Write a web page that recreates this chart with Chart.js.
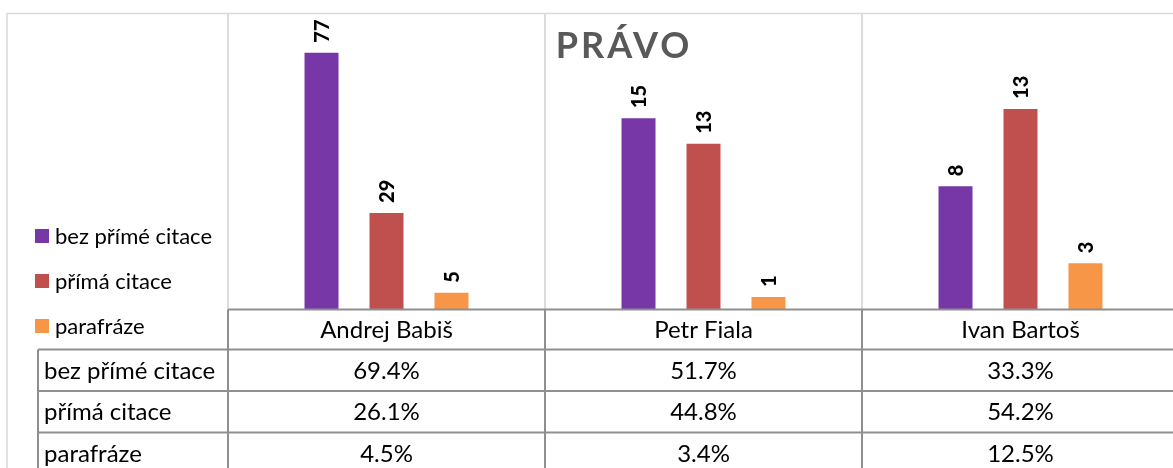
<!DOCTYPE html>
<html>
<head>
<meta charset="utf-8">
<script src="https://cdn.jsdelivr.net/npm/chart.js@4.4.1/dist/chart.umd.min.js"></script>
<style>
  html, body { margin: 0; padding: 0; background: #fff; overflow: hidden; width: 1173px; height: 468px; }
  canvas { display: block; }
</style>
</head>
<body>
<canvas id="c" width="1190" height="480"></canvas>
<script>
const title = 'PRÁVO';
const categories = ['Andrej Babiš', 'Petr Fiala', 'Ivan Bartoš'];
const seriesNames = ['bez přímé citace', 'přímá citace', 'parafráze'];
// share of each politician's mentions (percent) – bar heights and data table
const bezPrimeCitacePct = [69.4, 51.7, 33.3];
const primaCitacePct = [26.1, 44.8, 54.2];
const parafrazePct = [4.5, 3.4, 12.5];
// absolute counts – data labels above bars
const bezPrimeCitaceCount = [77, 15, 8];
const primaCitaceCount = [29, 13, 13];
const parafrazeCount = [5, 1, 3];
const colors = ['#7737A7', '#C0504D', '#F79646'];

const FONT = 'Lato, "Open Sans", "Liberation Sans", sans-serif';

const overlay = {
  id: 'overlay',
  beforeDatasetsDraw(chart) {
    const ctx = chart.ctx, a = chart.chartArea, x = chart.scales.x;
    const cw = x.getPixelForValue(1) - x.getPixelForValue(0);
    ctx.save();
    ctx.strokeStyle = '#d9d9d9';
    ctx.lineWidth = 1.5;
    ctx.beginPath();
    ctx.moveTo(7, 480); ctx.lineTo(7, 13.5); ctx.lineTo(1190, 13.5);
    ctx.stroke();
    ctx.strokeStyle = '#dcdcdc';
    ctx.lineWidth = 2;
    for (let i = 0; i < categories.length; i++) {
      const xl = x.getPixelForValue(i) - cw / 2;
      ctx.beginPath(); ctx.moveTo(xl, a.top); ctx.lineTo(xl, a.bottom); ctx.stroke();
    }
    ctx.fillStyle = '#595959';
    ctx.font = 'bold 36px ' + FONT;
    ctx.letterSpacing = '3px';
    ctx.textAlign = 'center';
    ctx.textBaseline = 'alphabetic';
    ctx.fillText(title, 624, 58);
    ctx.letterSpacing = '0px';
    ctx.restore();
  },
  afterDatasetsDraw(chart) {
    const ctx = chart.ctx, a = chart.chartArea, x = chart.scales.x;
    const cw = x.getPixelForValue(1) - x.getPixelForValue(0);
    ctx.save();
    ctx.fillStyle = '#000';
    ctx.font = '900 20px ' + FONT;
    chart.data.datasets.forEach((ds, di) => {
      const meta = chart.getDatasetMeta(di);
      meta.data.forEach((bar, i) => {
        ctx.save();
        ctx.translate(bar.x, bar.y - 10);
        ctx.rotate(-Math.PI / 2);
        ctx.textAlign = 'left';
        ctx.textBaseline = 'middle';
        ctx.fillText(String(ds.counts[i]), 0, 1);
        ctx.restore();
      });
    });
    ctx.font = '22px ' + FONT;
    ctx.textAlign = 'left';
    ctx.textBaseline = 'middle';
    chart.data.datasets.forEach((ds, di) => {
      const cy = 236 + di * 45;
      ctx.fillStyle = ds.backgroundColor;
      ctx.fillRect(35, cy - 7, 14, 14);
      ctx.fillStyle = '#000';
      ctx.fillText(ds.label, 55, cy + 1);
    });
    const rowTops = [a.bottom, 349.5, 391, 432.5, 474];
    const left = 38, right = 1190;
    ctx.strokeStyle = '#8f8f8f';
    ctx.lineWidth = 2;
    ctx.beginPath();
    ctx.moveTo(x.getPixelForValue(0) - cw / 2, rowTops[0]); ctx.lineTo(right, rowTops[0]);
    for (let r = 1; r < rowTops.length; r++) { ctx.moveTo(left, rowTops[r]); ctx.lineTo(right, rowTops[r]); }
    ctx.moveTo(left, rowTops[1]); ctx.lineTo(left, 480);
    for (let i = 0; i < categories.length; i++) {
      const xl = x.getPixelForValue(i) - cw / 2;
      ctx.moveTo(xl, rowTops[0]); ctx.lineTo(xl, 480);
    }
    ctx.stroke();
    ctx.fillStyle = '#000';
    ctx.font = '24px ' + FONT;
    ctx.textBaseline = 'middle';
    ctx.textAlign = 'center';
    categories.forEach((c, i) => {
      ctx.fillText(c, x.getPixelForValue(i), (rowTops[0] + rowTops[1]) / 2 + 1);
    });
    chart.data.datasets.forEach((ds, di) => {
      const cy = (rowTops[di + 1] + rowTops[di + 2]) / 2 + 1;
      ctx.textAlign = 'left';
      ctx.fillText(ds.label, 44, cy);
      ctx.textAlign = 'center';
      ds.data.forEach((v, i) => ctx.fillText(v.toFixed(1) + '%', x.getPixelForValue(i), cy));
    });
    ctx.restore();
  }
};

new Chart(document.getElementById('c'), {
  type: 'bar',
  data: {
    labels: categories,
    datasets: [
      { label: seriesNames[0], data: bezPrimeCitacePct, counts: bezPrimeCitaceCount, backgroundColor: colors[0] },
      { label: seriesNames[1], data: primaCitacePct, counts: primaCitaceCount, backgroundColor: colors[1] },
      { label: seriesNames[2], data: parafrazePct, counts: parafrazeCount, backgroundColor: colors[2] }
    ]
  },
  options: {
    responsive: false,
    animation: false,
    events: [],
    layout: { padding: { left: 228, right: 11, top: 13.5, bottom: 170.5 } },
    datasets: { bar: { categoryPercentage: 0.615, barPercentage: 0.523 } },
    scales: {
      x: { display: false },
      y: { display: false, min: 0, max: 80 }
    },
    plugins: { legend: { display: false }, tooltip: { enabled: false }, title: { display: false } }
  },
  plugins: [overlay]
});
</script>
</body>
</html>
